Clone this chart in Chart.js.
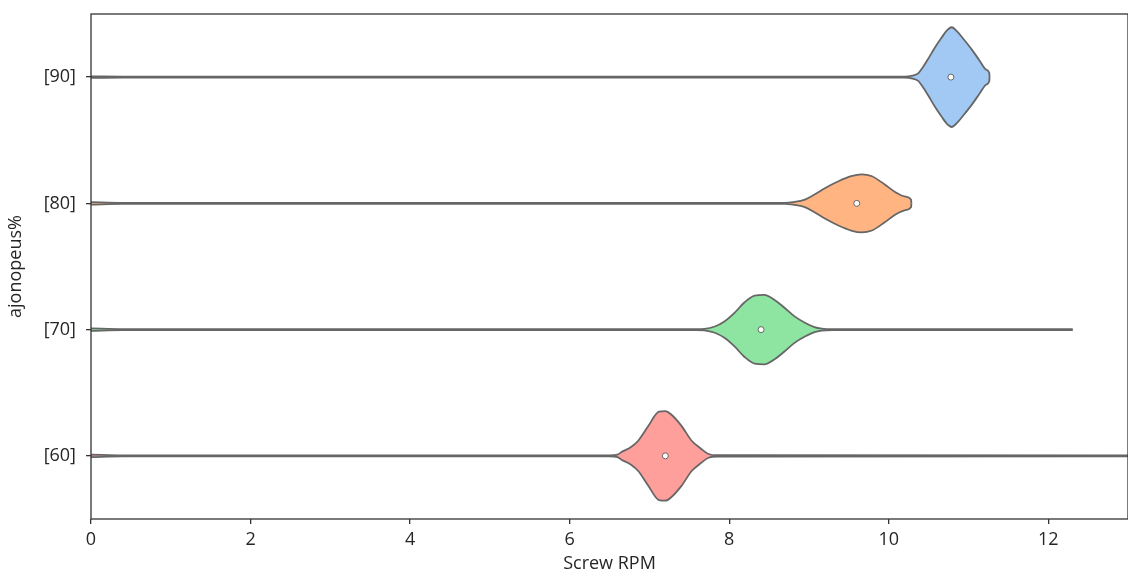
<!DOCTYPE html>
<html>
<head>
<meta charset="utf-8">
<script src="https://cdn.jsdelivr.net/npm/chart.js@4"></script>
<style>
  html, body { margin: 0; padding: 0; background: #fff; overflow: hidden; }
  canvas { display: block; }
</style>
</head>
<body>
<canvas id="violin" width="1133" height="575"></canvas>
<script>
// Categorias e medianas
const categories = ['[90]', '[80]', '[70]', '[60]'];
const medians = [10.78, 9.6, 8.4, 7.2];
const xTicks = [0, 2, 4, 6, 8, 10, 12];

// Perfil de densidade de cada violino: RPM e meia-largura (em unidades de categoria)
const rpm90 = [0, 0.4, 10.2, 10.3, 10.37, 10.42, 10.5, 10.58, 10.66, 10.73, 10.79, 10.86, 10.94, 11.04, 11.14, 11.22, 11.26, 11.265];
const width90 = [0.006, 0.004, 0.004, 0.012, 0.03, 0.07, 0.15, 0.235, 0.31, 0.37, 0.395, 0.36, 0.3, 0.22, 0.13, 0.06, 0.035, 0];

const rpm80 = [0, 0.4, 8.7, 8.8, 8.95, 9.07, 9.2, 9.37, 9.53, 9.66, 9.79, 9.95, 10.08, 10.2, 10.28, 10.285];
const width80 = [0.01, 0.004, 0.004, 0.01, 0.03, 0.07, 0.12, 0.175, 0.215, 0.23, 0.215, 0.15, 0.09, 0.055, 0.03, 0];

const rpm70 = [0, 0.4, 7.6, 7.69, 7.82, 7.94, 8.07, 8.19, 8.32, 8.44, 8.57, 8.69, 8.82, 8.95, 9.07, 9.16, 9.3, 12.3, 12.305];
const width70 = [0.01, 0.004, 0.004, 0.006, 0.025, 0.065, 0.135, 0.215, 0.27, 0.275, 0.235, 0.175, 0.105, 0.055, 0.02, 0.008, 0.004, 0.004, 0];

const rpm60 = [0, 0.4, 6.5, 6.6, 6.65, 6.77, 6.86, 6.98, 7.12, 7.2, 7.27, 7.4, 7.53, 7.65, 7.74, 7.85, 13.5];
const width60 = [0.01, 0.004, 0.004, 0.01, 0.03, 0.07, 0.12, 0.23, 0.35, 0.355, 0.33, 0.24, 0.12, 0.055, 0.015, 0.005, 0.004];

const violinColors = ['#a1c9f4', '#ffb482', '#8de5a1', '#ff9f9b'];
const outline = '#666666';
const axisColor = '#333333';
const textColor = '#262626';
const fontFamily = '"Open Sans", "DejaVu Sans", sans-serif';

const profiles = [[rpm90, width90], [rpm80, width80], [rpm70, width70], [rpm60, width60]];

// Cada violino vira duas linhas (borda de cima e de baixo) preenchidas entre si
const datasets = [];
profiles.forEach(([xs, ws], i) => {
    const lineStyle = {
        showLine: true,
        pointRadius: 0,
        borderColor: outline,
        borderWidth: 1.8,
        cubicInterpolationMode: 'monotone',
        order: 1
    };
    datasets.push(Object.assign({
        data: xs.map((x, k) => ({ x: x, y: i - ws[k] })),
        fill: false
    }, lineStyle));
    datasets.push(Object.assign({
        data: xs.map((x, k) => ({ x: x, y: i + ws[k] })),
        fill: '-1',
        backgroundColor: violinColors[i]
    }, lineStyle));
});

// Pontos das medianas
datasets.push({
    data: medians.map((m, i) => ({ x: m, y: i })),
    pointRadius: 3,
    pointBackgroundColor: '#ffffff',
    pointBorderColor: outline,
    pointBorderWidth: 1,
    order: 0
});

// Moldura completa do gráfico
const frame = {
    id: 'frame',
    afterDraw(chart) {
        const { ctx, chartArea: a } = chart;
        ctx.save();
        ctx.strokeStyle = axisColor;
        ctx.lineWidth = 1.3;
        ctx.strokeRect(a.left, a.top, a.right - a.left, a.bottom - a.top);
        ctx.restore();
    }
};

new Chart(document.getElementById('violin'), {
    type: 'scatter',
    data: { datasets: datasets },
    plugins: [frame],
    options: {
        responsive: false,
        animation: false,
        layout: { padding: { top: 14, right: 1, left: 0, bottom: 0 } },
        plugins: {
            legend: { display: false },
            tooltip: { enabled: false }
        },
        scales: {
            x: {
                type: 'linear',
                min: 0,
                max: 13,
                afterFit: scale => {
                    scale.height = 56;
                    scale.paddingLeft = 0;
                    scale.paddingRight = 0;
                },
                afterBuildTicks: scale => { scale.ticks = xTicks.map(v => ({ value: v })); },
                border: { display: false },
                grid: { drawOnChartArea: false, drawTicks: true, tickLength: 5, color: axisColor, lineWidth: 1.3 },
                ticks: { color: textColor, padding: 5, maxRotation: 0, font: { family: fontFamily, size: 18 } },
                title: {
                    display: true,
                    text: 'Screw RPM',
                    color: textColor,
                    padding: { top: 0, bottom: 0 },
                    font: { family: fontFamily, size: 18 }
                }
            },
            y: {
                type: 'linear',
                min: -0.5,
                max: 3.5,
                reverse: true,
                afterFit: scale => {
                    scale.width = 91;
                    scale.paddingTop = 0;
                    scale.paddingBottom = 0;
                },
                afterBuildTicks: scale => { scale.ticks = categories.map((c, i) => ({ value: i })); },
                border: { display: false },
                grid: { drawOnChartArea: false, drawTicks: true, tickLength: 5, color: axisColor, lineWidth: 1.3 },
                ticks: {
                    color: textColor,
                    padding: 10,
                    font: { family: fontFamily, size: 18 },
                    callback: value => categories[value]
                },
                title: {
                    display: true,
                    text: 'ajonopeus%',
                    color: textColor,
                    padding: { top: 5, bottom: 0 },
                    font: { family: fontFamily, size: 18 }
                }
            }
        }
    }
});
</script>
</body>
</html>
